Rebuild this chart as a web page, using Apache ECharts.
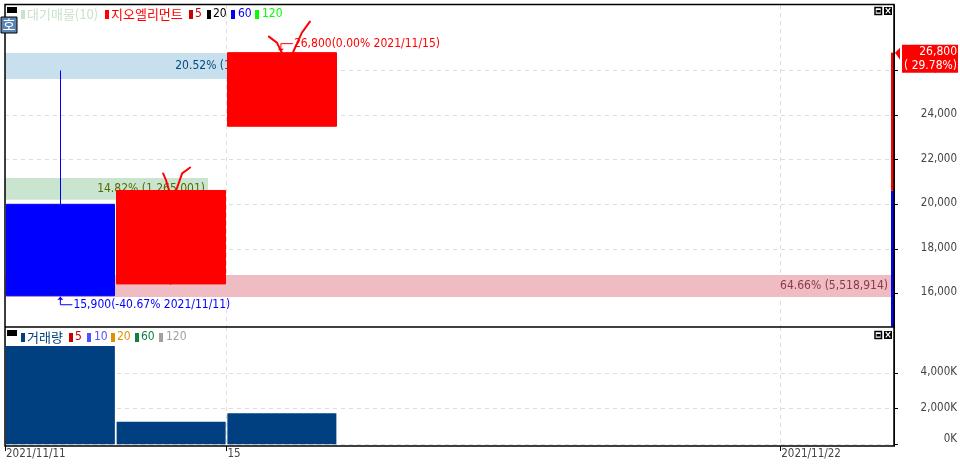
<!DOCTYPE html>
<html><head><meta charset="utf-8">
<style>html,body{margin:0;padding:0;background:#fff}#c{width:960px;height:464px}</style>
<script src="https://cdn.jsdelivr.net/npm/echarts@6/dist/echarts.min.js"></script>
</head><body><div id="c"></div>
<script>
const dates = ['2021/11/11','2021/11/12','2021/11/15','2021/11/16','2021/11/17','2021/11/18','2021/11/19','2021/11/22'];
const edgeLabels = ['2021/11/11','','15','','','','','2021/11/22',''];
const opens = [20000, 16430, 23500];
const closes = [15900, 20620, 26800];
const lows = [15900, 16390, 23500];
const highs = [26000, 20620, 26800];
const volumes = [5518.914, 1265.001, 1751.2];
const bandPct = [20.52, 14.82, 64.66];
const bandLow = [25620, 20200, 15840];
const bandHigh = [26780, 21180, 16830];
const bandLabels = ['20.52% (1,751,200)', '14.82% (1,265,001)', '64.66% (5,518,914)'];
const priceTicks = [16000, 18000, 20000, 22000, 24000, 26000];
const volumeTicks = [0, 2000, 4000];
const stripLow = [14498, 20620];
const stripHigh = [20620, 26800];
const lastPrice = 26800;
const lastChange = '( 29.78%)';
const notes = [
  {index: 2, value: 26800, text: '26,800(0.00% 2021/11/15)'},
  {index: 0, value: 15900, text: '15,900(-40.67% 2021/11/11)'}
];
const topLegend = [['대기매물(10)','#c8e2cd'],['지오엘리먼트','#ff0000'],['5','#c80000'],['20','#000000'],['60','#0000ff'],['120','#00ff00']];
const bottomLegend = [['거래량','#004080'],['5','#c80000'],['10','#5050ff'],['20','#e09000'],['60','#108040'],['120','#a0a0a0']];

const COND = '"DejaVu Sans Condensed","Liberation Sans Narrow","DejaVu Sans",sans-serif';
const KR = '"Noto Sans CJK KR","Noto Sans",sans-serif';
const bandFill = ['#c8e0ed','#c9e5cf','#eebcc2'];
const bandText = ['#004a80','#556b00','#8b3a4a'];
const noteColor = ['#ff0000','#0000ff'];
const RED='#ff0000', BLUE='#0000ff';
const PRICE_MIN=14498, PRICE_MAX=28937, VOL_MIN=-95, VOL_MAX=6590;

function legendText(items, xs, y){
  const out=[];
  items.forEach((it,i)=>{
    out.push({type:'rect',silent:true,z:20,shape:{x:xs[i][0],y:y-4,width:4,height:9},style:{fill:it[1]}});
    out.push({type:'text',silent:true,z:20,x:xs[i][1],y:y,style:{text:it[0],fill:it[1],font:(/[가-힣]/.test(it[0])?'13px '+KR:'12px '+COND),textVerticalAlign:'middle'}});
  });
  return out;
}
function icons(y){
  return [
    {type:'rect',silent:true,z:20,shape:{x:875,y:y+.5,width:6.5,height:7},style:{fill:'#fff',stroke:'#000',lineWidth:1.5}},
    {type:'rect',silent:true,z:20,shape:{x:876.5,y:y+3,width:4,height:2.5},style:{fill:'#000'}},
    {type:'rect',silent:true,z:20,shape:{x:884,y:y,width:8,height:8},style:{fill:'#000'}},
    {type:'text',silent:true,z:21,x:888,y:y+4,style:{text:'×',fill:'#fff',font:'bold 10px '+COND,textAlign:'center',textVerticalAlign:'middle'}}
  ];
}
const graphic=[
  {type:'rect',silent:true,z:15,shape:{x:5,y:4.5,width:889,height:441.5},style:{fill:'none',stroke:'#000',lineWidth:1.5}},
  {type:'line',silent:true,z:15,shape:{x1:5,y1:327,x2:894,y2:327},style:{stroke:'#000',lineWidth:1.5}},
  {type:'rect',silent:true,z:20,shape:{x:7,y:7,width:10,height:6},style:{fill:'#000'}},
  {type:'rect',silent:true,z:20,shape:{x:7,y:330,width:10,height:6},style:{fill:'#000'}},
  {type:'rect',silent:true,z:20,shape:{x:1,y:17,width:16,height:16},style:{fill:'#5b84b4',stroke:'#000',lineWidth:1}},
  {type:'text',silent:true,z:21,x:9,y:25,style:{text:'호',fill:'#fff',font:'14px '+KR,textAlign:'center',textVerticalAlign:'middle'}},
  ...icons(7),...icons(331),
  ...legendText(topLegend,[[21,27],[105,111],[189,195],[207,213],[231,238],[255,262]],14),
  ...legendText(bottomLegend,[[21,27],[69,75],[87,94],[111,117],[135,141],[159,166]],337)
];

const edgeShown = (i)=>edgeLabels[i]!=='';
function hiddenCat(gridIndex,data){return {type:'category',gridIndex,data,boundaryGap:true,axisLine:{show:false,onZero:false},axisTick:{show:false},axisLabel:{show:false},splitLine:{show:false}};}
function edgeAxis(gridIndex,withLabels){return {type:'category',gridIndex,data:edgeLabels,boundaryGap:false,position:'bottom',
  axisLine:{show:false,onZero:false},
  axisTick:{show:withLabels,length:5,interval:edgeShown,lineStyle:{color:'#000',width:1}},
  axisLabel:{show:withLabels,interval:edgeShown,align:'left',margin:2,padding:[0,0,0,1],color:'#444',fontFamily:COND,fontSize:11.5},
  splitLine:{show:true,interval:edgeShown,lineStyle:{color:'#dcdcdc',type:[4,4],width:1}}};}
function rightAxis(gridIndex,min,max,ticks,fmt){return {type:'value',gridIndex,position:'right',offset:3,min,max,
  axisLine:{show:true,onZero:false,lineStyle:{color:'#000',width:1}},
  axisTick:{show:true,length:4,customValues:ticks,lineStyle:{color:'#000'}},
  axisLabel:{show:true,customValues:ticks,formatter:fmt,align:'right',margin:63,padding:[0,0,2,0],color:'#444',fontFamily:COND,fontSize:11.5,
    rich:{low:{padding:[0,0,9,0],color:'#444',fontFamily:COND,fontSize:11.5}}},
  splitLine:{show:true,lineStyle:{color:'#dcdcdc',type:[4,4],width:1}}};}

const option={
  animation:false,backgroundColor:'#fff',
  grid:[
    {left:5,top:5,width:886,height:322},
    {left:5,top:327,width:886,height:119},
    {left:891,top:5,width:3,height:322}
  ],
  xAxis:[
    hiddenCat(0,dates),edgeAxis(0,false),
    {type:'value',gridIndex:0,min:0,max:64.66,show:false},
    hiddenCat(1,dates),edgeAxis(1,true),
    hiddenCat(2,['now'])
  ],
  yAxis:[
    rightAxis(0,PRICE_MIN,PRICE_MAX,priceTicks,(v)=>v.toLocaleString('en-US')),
    {type:'value',gridIndex:2,min:PRICE_MIN,max:PRICE_MAX,show:false},
    rightAxis(1,VOL_MIN,VOL_MAX,volumeTicks,(v)=>v===0?'{low|0K}':v.toLocaleString('en-US')+'K')
  ],
  graphic,
  series:[
    {type:'custom',name:'대기매물',xAxisIndex:2,yAxisIndex:0,z:1,silent:true,
     data:bandPct.map((p,i)=>[p,bandLow[i],bandHigh[i],i]),
     encode:{x:0,y:[1,2]},
     renderItem(params,api){
       const i=api.value(3);
       const a=api.coord([0,api.value(2)]), b=api.coord([api.value(0),api.value(1)]);
       return {type:'group',children:[
         {type:'rect',shape:{x:a[0],y:a[1],width:b[0]-a[0],height:b[1]-a[1]},style:{fill:bandFill[i]}},
         {type:'text',x:b[0]-3,y:(a[1]+b[1])/2,style:{text:bandLabels[i],fill:bandText[i],font:'12px '+COND,textAlign:'right',textVerticalAlign:'middle'}}
       ]};
     }},
    {type:'candlestick',name:'지오엘리먼트',xAxisIndex:0,yAxisIndex:0,z:3,barWidth:109,silent:true,
     data:opens.map((o,i)=>[o,closes[i],lows[i],highs[i]]),
     itemStyle:{color:RED,color0:BLUE,borderColor:RED,borderColor0:BLUE,borderWidth:1}},
    {type:'custom',name:'표시',xAxisIndex:0,yAxisIndex:0,z:5,silent:true,
     data:notes.map((n,i)=>[n.index,n.value,i]),
     encode:{x:0,y:1},
     renderItem(params,api){
       const i=api.value(2), c=noteColor[i];
       const p=api.coord([api.value(0),api.value(1)]);
       const up=i===0;
       const x=p[0]-(up?1:0), y=p[1];
       const yL=up?y-9:y+9, xL=x+12;
       const tip=up?-1:1;
       return {type:'group',children:[
         {type:'polyline',shape:{points:[[x,y+tip*1],[x,yL],[xL,yL]]},style:{fill:'none',stroke:c,lineWidth:1}},
         {type:'polygon',shape:{points:[[x,y+tip],[x-3,y+tip*4],[x+3,y+tip*4]]},style:{fill:c}},
         {type:'text',x:xL+1,y:yL,style:{text:notes[i].text,fill:c,font:'12px '+COND,textVerticalAlign:'middle'}}
       ]};
     }},
    {type:'custom',name:'체크',xAxisIndex:0,yAxisIndex:0,z:6,silent:true,
     data:[[1,highs[1]],[2,highs[2]]],
     encode:{x:0,y:1},
     renderItem(params,api){
       const p=api.coord([api.value(0),api.value(1)]);
       const s={fill:'none',stroke:RED,lineWidth:2,lineCap:'round'};
       const big=api.value(0)===2;
       const A=big?[[-13,-16],[-5,-10],[0,0]]:[[-8,-17],[-5,-10],[-2,0]];
       const B=big?[[28,-31],[20,-20],[11,0]]:[[19,-23],[11,-17],[5,0]];
       const m=(l)=>l.map(q=>[p[0]+q[0],p[1]+q[1]]);
       return {type:'group',children:[
         {type:'polyline',shape:{points:m(A)},style:s},
         {type:'polyline',shape:{points:m(B)},style:s}
       ]};
     }},
    {type:'custom',name:'현재',xAxisIndex:5,yAxisIndex:1,z:7,silent:true,
     data:stripLow.map((l,i)=>[0,l,stripHigh[i],i]),
     encode:{x:0,y:[1,2]},
     renderItem(params,api){
       const a=api.coord([0,api.value(2)]), b=api.coord([0,api.value(1)]);
       const sz=api.size([1,0]);
       return {type:'rect',shape:{x:a[0]-sz[0]/2,y:a[1],width:sz[0],height:b[1]-a[1]},style:{fill:api.value(3)===0?BLUE:RED}};
     }},
    {type:'custom',name:'현재가',xAxisIndex:5,yAxisIndex:1,z:20,silent:true,clip:false,
     data:[[0,lastPrice]],
     encode:{x:0,y:1},
     renderItem(params,api){
       const p=api.coord([0,api.value(1)]);
       const x0=p[0]+2.5, y=p[1];
       return {type:'group',children:[
         {type:'polygon',shape:{points:[[x0,y],[x0+5,y-5],[x0+5,y+7]]},style:{fill:RED}},
         {type:'rect',shape:{x:902,y:y-8,width:56,height:28},style:{fill:RED}},
         {type:'text',x:957,y:y-1,style:{text:lastPrice.toLocaleString('en-US'),fill:'#fff',font:'12px '+COND,textAlign:'right',textVerticalAlign:'middle'}},
         {type:'text',x:957,y:y+13,style:{text:lastChange,fill:'#fff',font:'12px '+COND,textAlign:'right',textVerticalAlign:'middle'}}
       ]};
     }},
    {type:'bar',name:'거래량',xAxisIndex:3,yAxisIndex:2,z:3,barWidth:109,silent:true,
     data:volumes,itemStyle:{color:'#004080'}}
  ]
};
echarts.init(document.getElementById('c'),null,{renderer:'canvas'}).setOption(option);
</script></body></html>
